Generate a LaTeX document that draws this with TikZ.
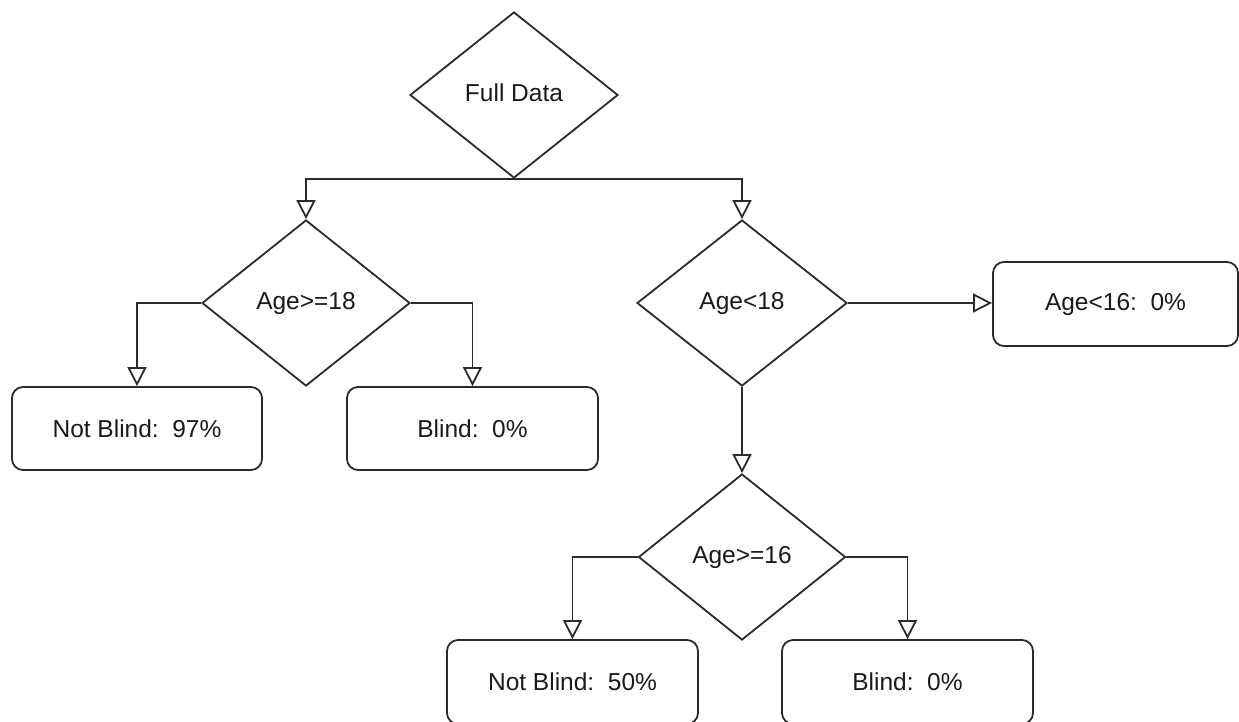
\documentclass[tikz,border=0pt]{standalone}
\usepackage{fontspec}
\setmainfont{Liberation Sans}
\usetikzlibrary{shapes.geometric,arrows.meta}
\definecolor{ln}{HTML}{2B2B2B}
\definecolor{tx}{HTML}{1A1A1A}
\tikzset{
  x=1pt,y=-1pt,
  base/.style={draw=ln,line width=1.8pt,fill=white,text=tx,inner sep=0pt,font=\fontsize{24.5}{28}\selectfont},
  decide/.style={base,diamond,minimum width=208pt,minimum height=166pt},
  leaf/.style={base,rectangle,rounded corners=11pt,minimum width=250pt,minimum height=83pt},
  conn/.style={draw=ln,line width=1.8pt,-{Triangle[open,length=19pt,width=19pt,fill=white]}},
}
\begin{document}
\begin{tikzpicture}
\useasboundingbox (0,0) rectangle (1239,721);
\node[decide] (full) at (514,95) {\raisebox{4pt}{Full Data}};
\node[decide] (a18) at (306,303) {\raisebox{3pt}{Age>=18}};
\node[decide,minimum width=210pt] (b18) at (742,303) {\raisebox{3pt}{Age<18}};
\node[decide,minimum width=207pt] (a16) at (742,557) {\raisebox{3pt}{Age>=16}};
\node[leaf] (nb97) at (137,428.5) {Not Blind:\ \ 97\%};
\node[leaf,minimum width=251pt] (bl0a) at (472.5,428.5) {Blind:\ \ 0\%};
\node[leaf,minimum width=245pt,minimum height=84pt] (lt16) at (1115.5,304) {Age<16:\ \ 0\%};
\node[leaf,minimum width=251pt,minimum height=84pt] (nb50) at (572.5,682) {Not Blind:\ \ 50\%};
\node[leaf,minimum width=251pt,minimum height=84pt] (bl0b) at (907.5,682) {Blind:\ \ 0\%};
\draw[conn] (full.south) -| (a18.north);
\draw[conn] (full.south) -| (b18.north);
\draw[conn] (a18.west) -| (nb97.north);
\draw[conn] (a18.east) -| (bl0a.north);
\draw[conn] (b18.east) -- (b18.east -| lt16.west);
\draw[conn] (b18.south) -- (a16.north);
\draw[conn] (a16.west) -| (nb50.north);
\draw[conn] (a16.east) -| (bl0b.north);
\end{tikzpicture}
\end{document}
